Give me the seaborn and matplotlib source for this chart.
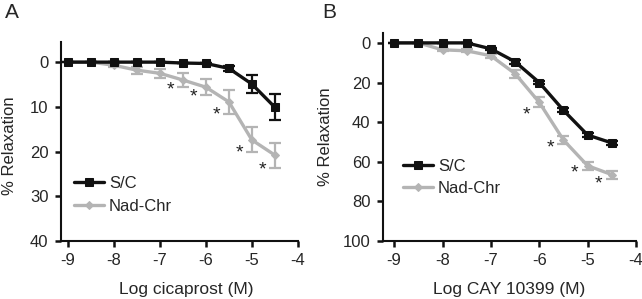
import numpy as np
import pandas as pd
import matplotlib
matplotlib.use("Agg")
import matplotlib.pyplot as plt
import seaborn as sns

sns.set_style("ticks")
plt.rcParams['font.family'] = ['Liberation Sans', 'DejaVu Sans']

# log concentration (M)
log_conc = [-9, -8.5, -8, -7.5, -7, -6.5, -6, -5.5, -5, -4.5]

# panel A - cicaprost
a_sc = [0, 0, 0, 0, 0, 0.2, 0.3, 1.4, 4.9, 10.1]
a_sc_err = [0, 0, 0, 0, 0, 0, 0, 0.6, 2.0, 2.9]
a_nad = [0, 0, 0.7, 1.8, 2.5, 4.0, 5.6, 8.9, 17.4, 20.8]
a_nad_err = [0, 0, 0.3, 0.8, 1.0, 1.5, 1.8, 2.6, 2.8, 2.8]
a_star_x = [-6.5, -6, -5.5, -5, -4.5]
a_star_y = [5.1, 6.6, 10.7, 19.3, 23.0]

# panel B - CAY 10399
b_sc = [0, 0, 0, 0, 3, 9.5, 20, 34, 46.5, 50.5]
b_sc_err = [0, 0, 0, 0, 0.5, 1, 1, 1, 1, 1]
b_nad = [0, 0, 3.5, 4, 6.5, 15.5, 30, 49, 62, 66.5]
b_nad_err = [0, 0, 0.5, 0.8, 1, 2, 2.5, 2, 2, 2]
b_star_x = [-6, -5.5, -5, -4.5]
b_star_y = [34, 50.5, 63, 69]

colors = {'S/C': '#111111', 'Nad-Chr': '#b4b4b4'}
markers = {'S/C': 's', 'Nad-Chr': 'D'}


def draw_panel(ax, sc, sc_err, nad, nad_err, star_x, star_y):
    df = pd.DataFrame({
        'x': log_conc * 2,
        'y': sc + nad,
        'group': ['S/C'] * len(sc) + ['Nad-Chr'] * len(nad),
    })
    for g, yv, ev in [('Nad-Chr', nad, nad_err), ('S/C', sc, sc_err)]:
        ax.errorbar(log_conc, yv, yerr=ev, fmt='none', ecolor=colors[g],
                    elinewidth=1.6, capsize=4, capthick=1.6, zorder=3, clip_on=False)
    for g in ['Nad-Chr', 'S/C']:
        sub = df[df['group'] == g]
        sns.lineplot(data=sub, x='x', y='y', ax=ax, color=colors[g],
                     marker=markers[g], markersize=6 if g == 'S/C' else 4.5,
                     markeredgecolor=colors[g], linewidth=2.4, label=g,
                     zorder=4, clip_on=False)
    for sx, sy in zip(star_x, star_y):
        ax.annotate('*', (sx - 0.27, sy), xytext=(0, -3.5), textcoords='offset points',
                    ha='center', va='center', fontsize=14, color='#222222')
    for s in ['top', 'right']:
        ax.spines[s].set_visible(False)
    for s in ['left', 'bottom']:
        ax.spines[s].set_linewidth(1.5)
        ax.spines[s].set_color('#111111')
    ax.tick_params(width=1.8, length=4, labelsize=12, color='#111111', pad=5)
    ax.set_xticks([-9, -8, -7, -6, -5, -4])
    ax.set_xticklabels(['-9', '-8', '-7', '-6', '-5', '-4'])


fig = plt.figure(figsize=(6.42, 2.99), dpi=100)
axA = fig.add_axes([0.095, 0.194, 0.369, 0.6655])
axB = fig.add_axes([0.5966, 0.194, 0.394, 0.6957])

axA.set_xlim(-9.15, -4)
axA.set_ylim(40, -4.5)
axB.set_xlim(-9.23, -4)
axB.set_ylim(100, -5)

draw_panel(axA, a_sc, a_sc_err, a_nad, a_nad_err, a_star_x, a_star_y)
draw_panel(axB, b_sc, b_sc_err, b_nad, b_nad_err, b_star_x, b_star_y)

axA.set_yticks([0, 10, 20, 30, 40])
axB.set_yticks([0, 20, 40, 60, 80, 100])

axA.set_xlabel('Log cicaprost (M)', fontsize=12.5)
axB.set_xlabel('Log CAY 10399 (M)', fontsize=12.5)
axA.set_ylabel('% Relaxation', fontsize=12)
axB.set_ylabel('% Relaxation', fontsize=12)
axA.xaxis.set_label_coords(0.53, -0.206)
axB.xaxis.set_label_coords(0.5, -0.197)
axA.yaxis.set_label_coords(-0.184, 0.477)
axB.yaxis.set_label_coords(-0.198, 0.5)

for ax, pos in [(axA, (0.055, 0.231)), (axB, (0.079, 0.305))]:
    h, l = ax.get_legend_handles_labels()
    order = [l.index('S/C'), l.index('Nad-Chr')]
    ax.legend([h[i] for i in order], [l[i] for i in order], loc='center left',
              bbox_to_anchor=pos, frameon=False, fontsize=12, handlelength=1.8,
              handletextpad=0.3, labelspacing=0.45, borderpad=0, borderaxespad=0)

fig.text(0.008, 0.958, 'A', fontsize=15, va='center', ha='left')
fig.text(0.502, 0.958, 'B', fontsize=15, va='center', ha='left')

fig.savefig('out.png', dpi=100)
